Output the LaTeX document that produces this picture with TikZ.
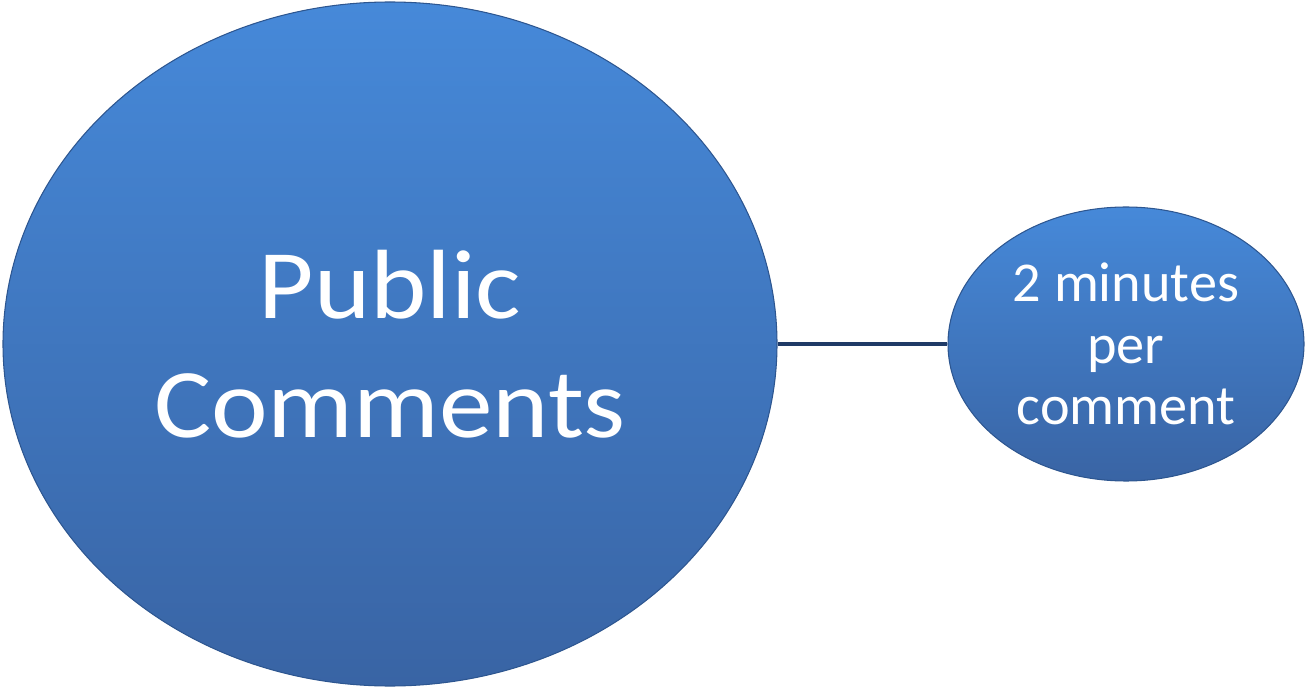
\documentclass[tikz,border=0pt]{standalone}
\usepackage{fontspec}
\setmainfont{Carlito}
\newfontfamily\widefont[FakeStretch=1.09]{Carlito}
\usetikzlibrary{shapes.geometric}
\definecolor{blobtop}{HTML}{4689D9}
\definecolor{blobbot}{HTML}{3964A4}
\definecolor{blobrim}{HTML}{2D5690}
\definecolor{linknavy}{HTML}{1F3A66}
\begin{document}
\begin{tikzpicture}
				\tikzset{blob/.style={ellipse,inner sep=0pt,draw=blobrim,line width=0.6pt,top color=blobtop,bottom color=blobbot,text=white,align=center}}
				\useasboundingbox(0,0)rectangle(26.14,13.76);
				\path(7.8,6.88)node[blob,minimum width=15.48cm,minimum height=13.68cm,font=\widefont\fontsize{56}{68}\selectfont](pc){Public\\Comments};
				\path(22.52,6.88)node[blob,minimum width=7.12cm,minimum height=5.48cm,font=\fontsize{32}{35}\selectfont](tm){2 minutes\\per\\comment};
				\draw[linknavy,line width=2.8pt](pc.east)--(tm.west);
			\end{tikzpicture}
\end{document}
